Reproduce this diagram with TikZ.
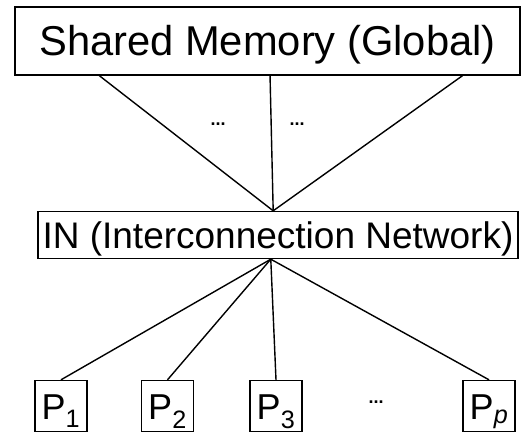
\documentclass[tikz,border=0pt]{standalone}
\usepackage{fontspec}
\setmainfont{Liberation Sans}
\usetikzlibrary{positioning,calc}

\begin{document}
\begin{tikzpicture}[
    x=1pt, y=-1pt,
    line width=1.4pt,
    box/.style={rectangle, draw, inner sep=0pt, align=center, text depth=0pt},
    mem/.style={box, minimum width=505pt, minimum height=68pt, text height=30pt, font=\fontsize{41.7}{44}\selectfont},
    net/.style={box, minimum width=480pt, minimum height=47pt, text height=27pt, font=\fontsize{37}{40}\selectfont},
    proc/.style={box, minimum width=52pt, minimum height=51pt, text height=26pt, font=\fontsize{36}{38}\selectfont},
    gap/.style={inner sep=0pt, font=\fontsize{18}{18}\selectfont\bfseries}
]
    \useasboundingbox (0,0) rectangle (524,433);

    \node[mem] (mem) at (267.5,41) {Shared Memory (Global)};
    \node[net] (in) at (278,235) {IN (Interconnection Network)};

    % processors
    \node[proc] (p1) at (61,406) {P\textsubscript{1}};
    \node[proc] (p2) at (167.5,406) {P\textsubscript{2}};
    \node[proc] (p3) at (276,406) {P\textsubscript{3}};
    \node[proc] (pp) at (489,406) {P\textsubscript{\itshape p}};

    % memory banks down to the network
    \coordinate (hubin) at ($(in.north west)!0.49!(in.north east)$);
    \coordinate (hubout) at ($(in.south west)!0.485!(in.south east)$);
    \coordinate (m1) at ($(mem.south west)!0.168!(mem.south east)$);
    \coordinate (m2) at ($(mem.south west)!0.505!(mem.south east)$);
    \coordinate (m3) at ($(mem.south west)!0.885!(mem.south east)$);

    \draw (m1) -- (hubin);
    \draw (m2) -- (hubin);
    \draw (m3) -- (hubin);

    \node[gap] (d1) at (218,124) {...};
    \node[gap] (d2) at (297,124) {...};

    % network out to the processors
    \draw (hubout) -- (p1.north);
    \draw (hubout) -- (p2.north);
    \draw (hubout) -- (p3.north);
    \draw (hubout) -- (pp.north);

    \node[gap] (d3) at (376,402) {...};
\end{tikzpicture}
\end{document}
